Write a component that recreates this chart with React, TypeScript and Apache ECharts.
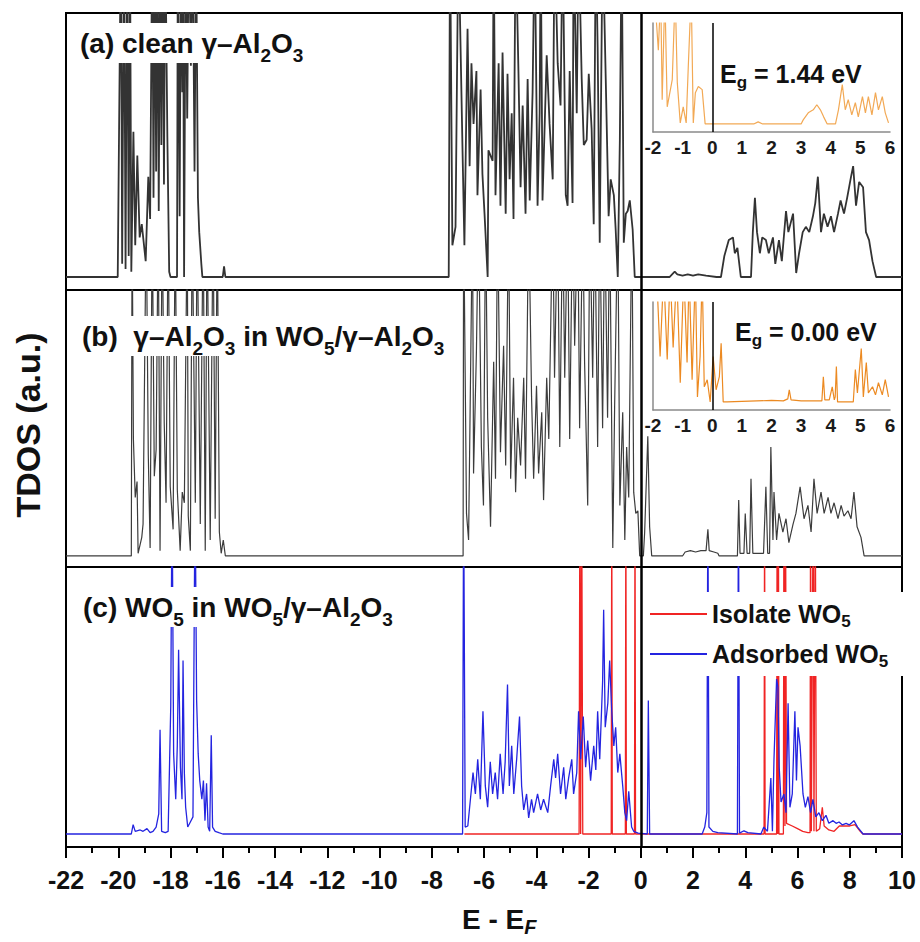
import React, { useEffect, useRef } from "react";
import * as echarts from "echarts";

const FONT = "'Liberation Sans', Arial, Helvetica, sans-serif";

// x range of the main panels (E - E_F, eV)
const xMin = -22;
const xMax = 10;
const insetMin = -2;
const insetMax = 6;

// (a) clean γ-Al2O3  [E, DOS]
const cleanAl2O3: [number, number][] = [
  [-22, 0], [-20.02, 0], [-19.9, 130], [-19.85, 5], [-19.78, 130], [-19.72, 3], [-19.66, 130], [-19.6, 8], [-19.55, 130],
  [-19.5, 2], [-19.42, 55], [-19.35, 12], [-19.27, 46], [-19.18, 15], [-19.1, 20], [-18.95, 6], [-18.85, 38],
  [-18.78, 22], [-18.7, 130], [-18.65, 30], [-18.6, 130], [-18.55, 40], [-18.5, 130], [-18.45, 25], [-18.4, 130],
  [-18.35, 50], [-18.3, 130], [-18.25, 35], [-18.2, 130], [-18.12, 53], [-18.05, 2], [-18.0, 0], [-17.75, 0],
  [-17.72, 130], [-17.65, 23], [-17.6, 130], [-17.55, 70], [-17.52, 130], [-17.48, 0], [-17.42, 130], [-17.36, 60],
  [-17.3, 130], [-17.22, 80], [-17.15, 130], [-17.08, 40], [-17.02, 130], [-16.95, 30], [-16.9, 17], [-16.82, 5],
  [-16.78, 0], [-16.0, 0], [-15.95, 4], [-15.9, 0],
  [-7.35, 0], [-7.3, 130], [-7.21, 12], [-7.09, 19], [-6.98, 130], [-6.82, 47], [-6.75, 12], [-6.63, 94], [-6.55, 42],
  [-6.48, 81], [-6.4, 58], [-6.29, 78], [-6.25, 31], [-6.13, 71], [-6.06, 39], [-5.98, 24], [-5.86, 0], [-5.83, 48],
  [-5.67, 44], [-5.63, 130], [-5.56, 31], [-5.44, 81], [-5.37, 27], [-5.29, 85], [-5.17, 24], [-5.1, 77], [-5.02, 37],
  [-4.94, 62], [-4.87, 22], [-4.79, 130], [-4.68, 77], [-4.6, 34], [-4.52, 65], [-4.41, 24], [-4.33, 75], [-4.25, 29],
  [-4.14, 70], [-4.06, 130], [-3.95, 27], [-3.87, 62], [-3.83, 130], [-3.76, 29], [-3.6, 84], [-3.49, 58], [-3.37, 37],
  [-3.3, 130], [-3.18, 81], [-3.07, 65], [-2.99, 130], [-2.87, 31], [-2.8, 27], [-2.72, 78], [-2.61, 28], [-2.57, 130],
  [-2.45, 62], [-2.38, 130], [-2.26, 75], [-2.18, 50], [-2.07, 52], [-1.99, 77], [-1.88, 56], [-1.8, 20], [-1.72, 130],
  [-1.65, 87], [-1.57, 13], [-1.46, 130], [-1.34, 75], [-1.23, 23], [-1.15, 37], [-1.03, 31], [-0.96, 18], [-0.88, 0],
  [-0.8, 52], [-0.73, 130], [-0.65, 13], [-0.57, 24], [-0.5, 25], [-0.42, 29], [-0.31, 18], [-0.23, 0],
  [1.1, 0], [1.2, 1], [1.3, 2], [1.4, 1], [1.6, 0.5], [1.8, 1], [2.0, 0.5], [2.2, 1], [2.5, 0.5], [2.9, 0],
  [3.07, 0], [3.2, 8], [3.37, 14], [3.53, 15], [3.6, 9], [3.7, 11], [3.83, 0], [4.22, 0], [4.29, 17], [4.37, 30],
  [4.45, 17], [4.56, 9], [4.65, 15], [4.79, 14], [4.9, 9], [5.06, 15], [5.15, 5], [5.29, 14], [5.4, 6], [5.56, 25],
  [5.65, 17], [5.83, 24], [5.95, 1.5], [6.06, 9], [6.2, 17], [6.32, 19], [6.45, 17], [6.59, 23], [6.68, 28], [6.78, 38],
  [6.9, 17], [7.01, 24], [7.15, 19], [7.28, 23], [7.4, 17], [7.55, 24], [7.65, 29], [7.78, 24], [7.9, 30], [8.05, 38],
  [8.13, 42], [8.24, 27], [8.36, 36], [8.51, 34], [8.62, 17], [8.74, 14], [8.87, 6], [9.01, 0], [10, 0],
];

// (b) γ-Al2O3 in WO5/γ-Al2O3
const al2o3InWO5: [number, number][] = [
  [-22, 0], [-19.5, 0], [-19.47, 130], [-19.42, 44], [-19.35, 22], [-19.28, 28], [-19.24, 1], [-19.1, 7], [-19.05, 12],
  [-18.93, 130], [-18.85, 38], [-18.78, 3], [-18.7, 130], [-18.62, 30], [-18.55, 40], [-18.47, 130], [-18.4, 2],
  [-18.32, 130], [-18.24, 50], [-18.17, 20], [-18.09, 130], [-18.01, 26], [-17.9, 10], [-17.82, 130], [-17.74, 25],
  [-17.63, 2], [-17.55, 24], [-17.47, 20], [-17.36, 130], [-17.32, 15], [-17.24, 2], [-17.17, 130], [-17.05, 20],
  [-16.98, 130], [-16.86, 12], [-16.75, 130], [-16.67, 2], [-16.6, 130], [-16.48, 6], [-16.37, 130], [-16.29, 14],
  [-16.21, 130], [-16.13, 9], [-16.06, 1], [-15.98, 6], [-15.9, 0],
  [-6.8, 0], [-6.78, 130], [-6.67, 16], [-6.59, 6], [-6.44, 130], [-6.4, 31], [-6.29, 77], [-6.21, 130], [-6.1, 41],
  [-6.02, 19], [-5.94, 130], [-5.86, 52], [-5.75, 11], [-5.63, 73], [-5.56, 29], [-5.48, 130], [-5.37, 39], [-5.25, 79],
  [-5.17, 34], [-5.06, 130], [-4.98, 29], [-4.87, 67], [-4.79, 24], [-4.71, 52], [-4.6, 34], [-4.48, 67], [-4.41, 29],
  [-4.29, 130], [-4.18, 60], [-4.1, 29], [-3.99, 64], [-3.91, 31], [-3.79, 54], [-3.72, 21], [-3.6, 67], [-3.52, 44],
  [-3.37, 130], [-3.3, 67], [-3.18, 130], [-3.1, 41], [-2.99, 130], [-2.91, 67], [-2.8, 130], [-2.72, 44], [-2.61, 130],
  [-2.53, 79], [-2.41, 130], [-2.34, 48], [-2.22, 130], [-2.15, 73], [-2.03, 19], [-1.95, 130], [-1.84, 67], [-1.76, 130],
  [-1.65, 41], [-1.57, 130], [-1.46, 48], [-1.38, 130], [-1.27, 52], [-1.19, 130], [-1.07, 3], [-1.0, 56], [-0.88, 130],
  [-0.8, 19], [-0.69, 54], [-0.61, 6], [-0.54, 41], [-0.46, 22], [-0.34, 130], [-0.27, 24], [-0.19, 16], [-0.11, 17],
  [-0.04, 0], [0.1, 0], [0.15, 9], [0.27, 45], [0.34, 11], [0.42, 0], [1.6, 0], [1.7, 1.5], [1.9, 2], [2.1, 1.5],
  [2.3, 2], [2.5, 2], [2.57, 10], [2.62, 2], [2.8, 1.5], [2.95, 1], [3.0, 0], [3.7, 0], [3.75, 21], [3.8, 1], [3.95, 1],
  [4.0, 16], [4.07, 1], [4.17, 1], [4.22, 29], [4.29, 1], [4.7, 1], [4.79, 26], [4.86, 1], [4.93, 1], [4.98, 41],
  [5.06, 6], [5.1, 24], [5.2, 6], [5.29, 16], [5.44, 9], [5.56, 14], [5.67, 5], [5.83, 12], [5.94, 16], [6.1, 26],
  [6.25, 14], [6.4, 19], [6.52, 9], [6.63, 29], [6.75, 16], [6.9, 24], [7.02, 16], [7.17, 22], [7.28, 16], [7.4, 20],
  [7.55, 14], [7.67, 19], [7.78, 15], [7.93, 17], [8.05, 14], [8.16, 24], [8.28, 11], [8.43, 7], [8.55, 0], [10, 0],
];

// (c) Isolate WO5
const isolateWO5: [number, number][] = [
  [-6.75, 0], [-2.36, 0], [-2.33, 130], [-2.3, 0], [-2.26, 130], [-2.22, 0], [-1.13, 0], [-1.11, 130], [-1.09, 0],
  [-0.59, 0], [-0.57, 130], [-0.55, 0], [-0.24, 0], [-0.22, 130], [-0.2, 0], [4.72, 0], [4.74, 130], [4.76, 0],
  [5.2, 0], [5.22, 130], [5.24, 0], [5.27, 130], [5.29, 0], [5.46, 0], [5.48, 130], [5.52, 3], [5.54, 130], [5.58, 4],
  [5.8, 3], [6.0, 2], [6.2, 1], [6.4, 0.5], [6.48, 0.5], [6.5, 130], [6.53, 1], [6.6, 130], [6.63, 1], [6.68, 130],
  [6.72, 1], [6.85, 2], [6.95, 10], [7.02, 3], [7.2, 1.5], [7.4, 1], [7.6, 3], [7.8, 3], [8.0, 3], [8.2, 3.5],
  [8.4, 1], [8.5, 0], [10, 0],
];

// (c) Adsorbed WO5
const adsorbedWO5: [number, number][] = [
  [-22, 0], [-19.5, 0], [-19.43, 3.5], [-19.35, 1], [-19.16, 1.5], [-19.05, 1], [-18.9, 2], [-18.78, 0.5], [-18.67, 1],
  [-18.55, 2.6], [-18.45, 7.5], [-18.4, 39], [-18.34, 1], [-18.2, 0.5], [-18.09, 1], [-17.99, 48], [-17.94, 130],
  [-17.88, 30], [-17.8, 13], [-17.74, 33], [-17.69, 69], [-17.62, 25], [-17.56, 13], [-17.52, 65], [-17.47, 23],
  [-17.42, 10], [-17.34, 2.6], [-17.24, 4.5], [-17.14, 6.4], [-17.06, 130], [-17.0, 50], [-16.94, 30], [-16.88, 20],
  [-16.8, 13], [-16.74, 20], [-16.68, 5], [-16.62, 19], [-16.56, 2.6], [-16.5, 1], [-16.44, 37], [-16.39, 2.6],
  [-16.29, 1], [-16.15, 0.5], [-16.0, 0],
  [-6.82, 0], [-6.78, 130], [-6.72, 2.6], [-6.62, 3], [-6.5, 15], [-6.42, 23], [-6.33, 15], [-6.24, 28], [-6.14, 13],
  [-6.04, 46], [-5.95, 18], [-5.86, 10], [-5.76, 27], [-5.67, 15], [-5.57, 23], [-5.48, 13], [-5.38, 30], [-5.27, 15],
  [-5.19, 27], [-5.1, 56], [-5.03, 18], [-4.94, 33], [-4.86, 15], [-4.75, 28], [-4.64, 44], [-4.56, 18], [-4.48, 9],
  [-4.37, 15], [-4.29, 6], [-4.18, 13], [-4.1, 8], [-3.95, 15], [-3.83, 9], [-3.72, 13], [-3.56, 8], [-3.45, 18],
  [-3.33, 28], [-3.26, 21], [-3.18, 30], [-3.07, 15], [-2.95, 25], [-2.87, 13], [-2.76, 21], [-2.64, 28], [-2.57, 15],
  [-2.45, 23], [-2.38, 46], [-2.3, 28], [-2.2, 44], [-2.11, 25], [-2.03, 35], [-1.92, 20], [-1.8, 33], [-1.72, 24],
  [-1.65, 46], [-1.57, 28], [-1.46, 57], [-1.42, 84], [-1.36, 40], [-1.26, 49], [-1.19, 65], [-1.11, 46], [-1.03, 33],
  [-0.96, 40], [-0.88, 23], [-0.8, 30], [-0.69, 18], [-0.61, 8], [-0.54, 5], [-0.46, 16], [-0.35, 2.6], [-0.27, 1],
  [-0.1, 0.3], [0.25, 0], [0.29, 50], [0.34, 0], [2.35, 0], [2.45, 2.6], [2.53, 8], [2.57, 130], [2.61, 2.6],
  [2.76, 1], [2.95, 0.5], [3.7, 0], [3.74, 130], [3.78, 0.3], [3.95, 1.2], [4.1, 0.5], [4.6, 0], [4.71, 2.6], [4.85, 1],
  [4.98, 21], [5.04, 1], [5.1, 28], [5.2, 58], [5.25, 55], [5.3, 25], [5.37, 12], [5.48, 15], [5.56, 8], [5.64, 49],
  [5.71, 10], [5.8, 15], [5.9, 46], [5.96, 20], [6.02, 40], [6.1, 33], [6.21, 15], [6.3, 10], [6.4, 14], [6.5, 8],
  [6.59, 13], [6.7, 6.4], [6.82, 8], [6.95, 5], [7.09, 7], [7.2, 4], [7.36, 5], [7.48, 4], [7.59, 4.5], [7.72, 3.4],
  [7.86, 4], [7.98, 3.4], [8.16, 5], [8.3, 2.6], [8.51, 0], [10, 0],
];

// inset of (a): band gap region, clean surface
const insetClean: [number, number][] = [
  [-2.0, 130], [-1.95, 130], [-1.82, 73], [-1.74, 130], [-1.69, 24], [-1.6, 130], [-1.52, 17], [-1.35, 44], [-1.25, 130],
  [-1.18, 41], [-1.08, 1], [-0.98, 17], [-0.88, 1], [-0.81, 56], [-0.71, 130], [-0.64, 1], [-0.57, 31], [-0.47, 37],
  [-0.34, 34], [-0.24, 0], [1.4, 0], [1.55, 2], [1.7, 0], [3.0, 0], [3.07, 4], [3.24, 11], [3.41, 14], [3.53, 19],
  [3.65, 14], [3.76, 7], [3.88, 0], [4.16, 0], [4.26, 14], [4.39, 39], [4.49, 14], [4.59, 24], [4.71, 9], [4.83, 21],
  [4.93, 7], [5.07, 27], [5.17, 11], [5.27, 27], [5.39, 9], [5.51, 31], [5.61, 14], [5.74, 27], [5.84, 11], [5.95, 1],
];

// inset of (b): band gap region, WO5 supported
const insetSupported: [number, number][] = [
  [-2.0, 130], [-1.88, 130], [-1.76, 46], [-1.64, 130], [-1.52, 43], [-1.42, 130], [-1.32, 55], [-1.2, 130], [-1.08, 20],
  [-0.96, 130], [-0.85, 40], [-0.78, 130], [-0.68, 23], [-0.57, 130], [-0.5, 6], [-0.41, 46], [-0.34, 130], [-0.27, 16],
  [-0.17, 23], [-0.07, 1], [0.03, 46], [0.13, 13], [0.24, 26], [0.3, 59], [0.37, 1], [0.5, 1], [1.0, 1.5], [1.5, 2],
  [2.0, 2.5], [2.4, 2], [2.55, 4], [2.6, 13], [2.66, 3], [3.0, 2], [3.5, 2], [3.7, 2], [3.75, 26], [3.8, 3], [3.95, 3],
  [4.05, 16], [4.12, 3], [4.15, 6], [4.19, 36], [4.23, 1], [4.76, 1], [4.83, 33], [4.9, 10], [5.03, 54], [5.1, 6],
  [5.2, 40], [5.27, 10], [5.41, 16], [5.51, 8], [5.61, 20], [5.74, 8], [5.84, 23], [5.95, 6],
];

const panelLabels = [
  "{n|(a) clean γ–Al}{s|2}{n|O}{s|3}",
  "{n|(b)  γ–Al}{s|2}{n|O}{s|3}{n| in WO}{s|5}{n|/γ–Al}{s|2}{n|O}{s|3}",
  "{n|(c) WO}{s|5}{n| in WO}{s|5}{n|/γ–Al}{s|2}{n|O}{s|3}",
];
const gapLabels = ["{n|E}{s|g}{n| = 1.44 eV}", "{n|E}{s|g}{n| = 0.00 eV}"];
const seriesNames = ["Isolate WO5", "Adsorbed WO5"];

const zeroLine = (width: number) => ({
  silent: true,
  symbol: ["none", "none"],
  label: { show: false },
  lineStyle: { color: "#000", width, type: "solid" as const },
  data: [{ xAxis: 0 }],
});

export default function App() {
  const ref = useRef<HTMLDivElement>(null);

  useEffect(() => {
    if (!ref.current) return;
    const chart = echarts.init(ref.current, undefined, { renderer: "svg" });

    const labelRich = {
      n: { fontSize: 28, fontWeight: "bold", fontFamily: FONT, lineHeight: 34, fill: "#111" },
      s: { fontSize: 19, fontWeight: "bold", fontFamily: FONT, lineHeight: 19, padding: [24, 0, 0, 0], fill: "#111" },
    };
    const gapRich = {
      n: { fontSize: 25, fontWeight: "bold", fontFamily: FONT, lineHeight: 28, fill: "#111" },
      s: { fontSize: 17, fontWeight: "bold", fontFamily: FONT, lineHeight: 17, padding: [16, 0, 0, 0], fill: "#111" },
    };

    const mainGrid = (top: number, height: number) => ({
      left: 66, top, width: 836, height, show: true, borderColor: "#000", borderWidth: 2, backgroundColor: "transparent",
    });
    const hiddenX = (gridIndex: number) => ({
      type: "value", gridIndex, min: xMin, max: xMax, interval: 2,
      axisLine: { show: false }, axisTick: { show: false }, axisLabel: { show: false }, splitLine: { show: false },
    });
    const insetX = (gridIndex: number) => ({
      type: "value", gridIndex, min: insetMin, max: insetMax, interval: 1,
      axisLine: { show: true, onZero: false, lineStyle: { color: "#8a8a8a", width: 1.5 } },
      axisTick: { show: false },
      axisLabel: { fontSize: 19, fontWeight: "bold", color: "#1a1a1a", margin: 6, fontFamily: FONT },
      splitLine: { show: false },
    });
    const insetY = (gridIndex: number, min: number) => ({
      type: "value", gridIndex, min, max: 100,
      axisLine: { show: true, onZero: false, lineStyle: { color: "#8a8a8a", width: 1.5 } },
      axisTick: { show: false }, axisLabel: { show: false }, splitLine: { show: false },
    });

    const option: any = {
      animation: false,
      backgroundColor: "#fff",
      grid: [
        mainGrid(13, 277),
        mainGrid(290, 277),
        mainGrid(567, 280),
        { left: 653, top: 23, width: 237, height: 109, show: false },
        { left: 653, top: 302, width: 237, height: 108, show: false },
      ],
      xAxis: [
        hiddenX(0),
        hiddenX(1),
        {
          type: "value", gridIndex: 2, min: xMin, max: xMax, interval: 2,
          axisLine: { show: true, onZero: false, lineStyle: { color: "#000", width: 2 } },
          axisTick: { show: true, inside: false, length: 11, lineStyle: { color: "#000", width: 2 } },
          minorTick: { show: true, splitNumber: 2, length: 6, lineStyle: { color: "#000", width: 2 } },
          axisLabel: { fontSize: 25, fontWeight: "bold", color: "#111", margin: 20, fontFamily: FONT },
          splitLine: { show: false },
          minorSplitLine: { show: false },
        },
        insetX(3),
        insetX(4),
      ],
      yAxis: [
        { type: "value", gridIndex: 0, min: -4.92, max: 100, show: false },
        { type: "value", gridIndex: 1, min: -4.15, max: 100, show: false },
        { type: "value", gridIndex: 2, min: -4.87, max: 100, show: false },
        insetY(3, -8),
        insetY(4, -7),
      ],
      legend: {
        show: true,
        data: seriesNames,
        orient: "vertical",
        left: 646,
        top: 592,
        padding: [6, 40, 6, 4],
        itemGap: 8,
        itemWidth: 57,
        itemHeight: 2,
        icon: "rect",
        backgroundColor: "#fff",
        selectedMode: false,
        formatter: (name: string) => `{n|${name.slice(0, -1)}}{s|${name.slice(-1)}}`,
        textStyle: {
          rich: {
            n: { fontSize: 25, fontWeight: "bold", color: "#111", fontFamily: FONT, lineHeight: 30 },
            s: { fontSize: 17, fontWeight: "bold", color: "#111", fontFamily: FONT, lineHeight: 17, padding: [15, 0, 0, 0] },
          },
        },
      },
      series: [
        {
          name: "clean", type: "line", xAxisIndex: 0, yAxisIndex: 0, data: cleanAl2O3, symbol: "none",
          lineStyle: { color: "#333", width: 1.8 }, markLine: zeroLine(2.5),
        },
        {
          name: "supported", type: "line", xAxisIndex: 1, yAxisIndex: 1, data: al2o3InWO5, symbol: "none",
          lineStyle: { color: "#3c3c3c", width: 1.2 }, markLine: zeroLine(2.5),
        },
        {
          name: seriesNames[0], type: "line", xAxisIndex: 2, yAxisIndex: 2, data: isolateWO5, symbol: "none",
          lineStyle: { color: "#f02424", width: 1.3 }, itemStyle: { color: "#f02424" },
        },
        {
          name: seriesNames[1], type: "line", xAxisIndex: 2, yAxisIndex: 2, data: adsorbedWO5, symbol: "none",
          lineStyle: { color: "#2424e0", width: 1.3 }, itemStyle: { color: "#2424e0" }, markLine: zeroLine(2.5),
        },
        {
          name: "insetA", type: "line", xAxisIndex: 3, yAxisIndex: 3, data: insetClean, symbol: "none",
          lineStyle: { color: "#f2a955", width: 1.2 }, markLine: zeroLine(1.5),
        },
        {
          name: "insetB", type: "line", xAxisIndex: 4, yAxisIndex: 4, data: insetSupported, symbol: "none",
          lineStyle: { color: "#ec8a22", width: 1.2 }, markLine: zeroLine(1.5),
        },
      ],
      graphic: [
        ...panelLabels.map((t, i) => ({
          type: "text", z: 100,
          x: [74, 76, 77][i], y: [23, 316, 587][i],
          style: { text: t, rich: labelRich, backgroundColor: "#fff", padding: [3, 6, 3, 6], fill: "#111" },
        })),
        ...gapLabels.map((t, i) => ({
          type: "text", z: 100,
          x: [720, 735][i], y: [60, 318][i],
          style: { text: t, rich: gapRich, fill: "#111" },
        })),
        {
          type: "text", z: 100, x: 28, y: 425, rotation: Math.PI / 2,
          style: {
            text: "TDOS (a.u.)", fontSize: 34, fontWeight: "bold", fontFamily: FONT, fill: "#111",
            align: "center", verticalAlign: "middle",
          },
        },
        {
          type: "text", z: 100, x: 462, y: 903,
          style: {
            text: "{n|E - E}{s|F}",
            rich: {
              n: { fontSize: 28, fontWeight: "bold", fontFamily: FONT, lineHeight: 32, fill: "#111" },
              s: { fontSize: 20, fontWeight: "bold", fontStyle: "italic", fontFamily: FONT, lineHeight: 20, padding: [15, 0, 0, 0], fill: "#111" },
            },
            fill: "#111",
          },
        },
      ],
    };

    chart.setOption(option);
    return () => chart.dispose();
  }, []);

  return (
    <div
      ref={ref}
      style={{ position: "fixed", left: 0, top: 0, width: 920, height: 942, background: "#fff" }}
    />
  );
}
